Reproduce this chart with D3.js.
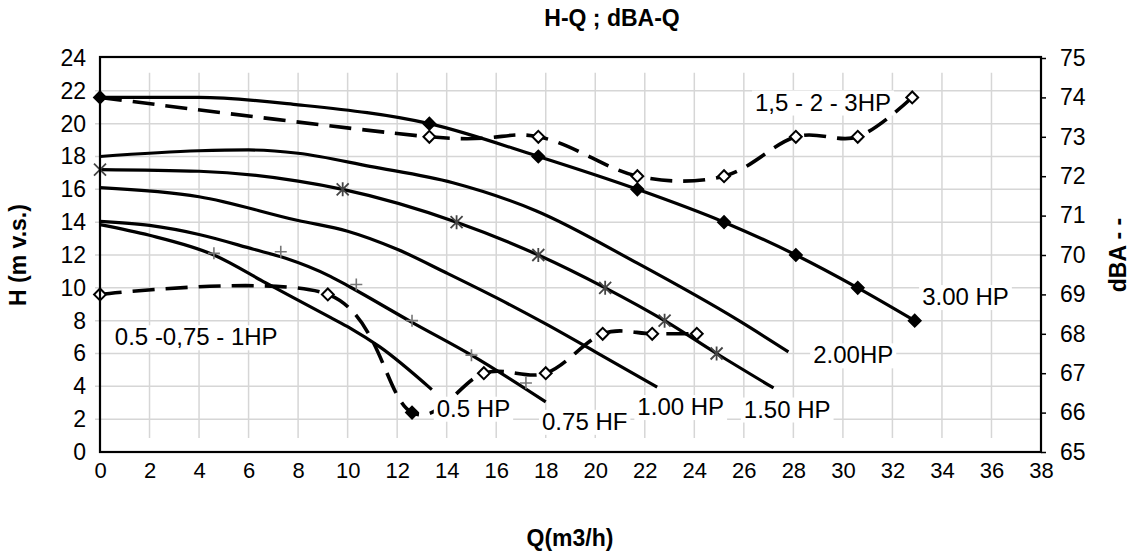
<!DOCTYPE html>
<html>
<head>
<meta charset="utf-8">
<script src="https://cdn.jsdelivr.net/npm/d3@7"></script>
<style>
body { margin: 0; background: #fff; }
text { font-family: Arial, "Liberation Sans", sans-serif; fill: #000; }
</style>
</head>
<body>
<svg width="1136" height="553"></svg>
<script>
// axis ticks
var qTicks = d3.range(0, 39, 2)
var hTicks = d3.range(0, 25, 2)
var dbaTicks = d3.range(65, 76, 1)

// H-Q curves (Q m3/h, H m)
var q3hp = [0, 4, 8, 13.3, 17.7, 21.7, 25.2, 28.1, 30.6, 32.9]
var h3hp = [21.6, 21.6, 21.15, 20.0, 18.0, 16.0, 14.0, 12.0, 10.0, 8.0]
var q2hp = [0, 4, 6, 8, 10.9, 14.25, 17.6, 21.7, 25.8, 27.8]
var h2hp = [18.0, 18.35, 18.4, 18.2, 17.4, 16.4, 14.7, 11.5, 8.0, 6.1]
var q15hp = [0, 4, 8, 9.8, 14.4, 17.7, 20.4, 22.8, 24.9, 27.2]
var h15hp = [17.2, 17.1, 16.5, 16.0, 14.0, 12.0, 10.0, 8.0, 6.0, 3.9]
var q1hp = [0, 4, 8, 10, 12, 14, 16, 18, 20, 22.5]
var h1hp = [16.1, 15.55, 14.1, 13.45, 12.35, 10.9, 9.4, 7.8, 6.1, 3.95]
var q075hp = [0, 2, 4, 6.2, 7.5, 9.3, 10.1, 12.6, 15, 18]
var h075hp = [14.05, 13.8, 13.25, 12.35, 11.8, 10.7, 10.05, 7.9, 5.9, 3.05]
var q05hp = [0, 2, 4.6, 6.7, 9.3, 10.1, 11.3, 13.4]
var h05hp = [13.85, 13.2, 12.0, 10.3, 8.2, 7.55, 6.4, 3.8]

// measured points (markers)
var q3hpPts = [0, 13.3, 17.7, 21.7, 25.2, 28.1, 30.6, 32.9]
var h3hpPts = [21.6, 20.0, 18.0, 16.0, 14.0, 12.0, 10.0, 8.0]
var q15hpPts = [0, 9.8, 14.4, 17.7, 20.4, 22.8, 24.9]
var h15hpPts = [17.2, 16.0, 14.0, 12.0, 10.0, 8.0, 6.0]
var qPlusPts = [4.6, 7.3, 10.35, 12.6, 15.0, 17.2]
var hPlusPts = [12.1, 12.2, 10.2, 8.0, 5.9, 4.2]

// dBA-Q curves
var qDbaSmall = [0, 9.2, 12.6, 15.5, 18.0, 20.3, 22.3, 24.1]
var dbaSmall = [69, 69, 66, 67, 67, 68, 68, 68]
var qDbaBig = [0, 13.3, 17.7, 21.7, 25.2, 28.1, 30.6, 32.8]
var dbaBig = [74, 73, 73, 72, 72, 73, 73, 74]

var svg = d3.select('svg')
var x = d3.scaleLinear().domain([0, 38]).range([100, 1041])
var y = d3.scaleLinear().domain([0, 24]).range([452, 58])
var y2 = d3.scaleLinear().domain([65, 75]).range([452, 58])

function zip(a, b) {
    return a.map(function(d, i) { return [d, b[i]] })
}

// grid
svg.append('g').selectAll('line')
    .data(hTicks.filter(function(d) { return d > 0 && d < 24 }))
    .enter().append('line')
    .attr('x1', x(0) - 5).attr('x2', x(38))
    .attr('y1', function(d) { return y(d) }).attr('y2', function(d) { return y(d) })
    .attr('stroke', '#d6d6d6').attr('stroke-width', 1.5)
svg.append('g').selectAll('line')
    .data(qTicks.filter(function(d) { return d > 0 && d < 38 }))
    .enter().append('line')
    .attr('x1', function(d) { return x(d) }).attr('x2', function(d) { return x(d) })
    .attr('y1', y(23.1)).attr('y2', y(0.85))
    .attr('stroke', '#d6d6d6').attr('stroke-width', 1.5)

var lineH = d3.line()
    .x(function(d) { return x(d[0]) })
    .y(function(d) { return y(d[1]) })
    .curve(d3.curveMonotoneX)
var lineDba = d3.line()
    .x(function(d) { return x(d[0]) })
    .y(function(d) { return y2(d[1]) })
    .curve(d3.curveCardinal)

var curves = [[q3hp, h3hp], [q2hp, h2hp], [q15hp, h15hp], [q1hp, h1hp], [q075hp, h075hp], [q05hp, h05hp]]
svg.append('g').selectAll('path')
    .data(curves)
    .enter().append('path')
    .attr('d', function(c) { return lineH(zip(c[0], c[1])) })
    .attr('fill', 'none').attr('stroke', '#000').attr('stroke-width', 3.2)

svg.append('g').selectAll('path')
    .data([[qDbaSmall, dbaSmall], [qDbaBig, dbaBig]])
    .enter().append('path')
    .attr('d', function(c) { return lineDba(zip(c[0], c[1])) })
    .attr('fill', 'none').attr('stroke', '#000').attr('stroke-width', 3.6)
    .attr('stroke-dasharray', '22,11')

// markers
var diamond = d3.symbol().type(d3.symbolSquare).size(70)
function diamonds(pts, fill) {
    svg.append('g').selectAll('path')
        .data(pts)
        .enter().append('path')
        .attr('d', diamond)
        .attr('transform', function(d) { return 'translate(' + d[0] + ',' + d[1] + ') rotate(45)' })
        .attr('fill', fill).attr('stroke', '#000').attr('stroke-width', 2)
}
diamonds(zip(qDbaSmall, dbaSmall).map(function(d) { return [x(d[0]), y2(d[1])] }).filter(function(d, i) { return i != 2 }), '#fff')
diamonds(zip(qDbaBig, dbaBig).map(function(d) { return [x(d[0]), y2(d[1])] }).slice(1), '#fff')
diamonds([[x(qDbaSmall[2]), y2(dbaSmall[2])]], '#000')
diamonds(zip(q3hpPts, h3hpPts).map(function(d) { return [x(d[0]), y(d[1])] }), '#000')

svg.append('g').selectAll('path')
    .data(zip(q15hpPts, h15hpPts))
    .enter().append('path')
    .attr('d', 'M-6,-6L6,6M-6,6L6,-6M0,-7L0,7')
    .attr('transform', function(d) { return 'translate(' + x(d[0]) + ',' + y(d[1]) + ')' })
    .attr('stroke', '#444').attr('stroke-width', 1.8).attr('fill', 'none')

svg.append('g').selectAll('path')
    .data(zip(qPlusPts, hPlusPts))
    .enter().append('path')
    .attr('d', 'M-6,0L6,0M0,-6L0,6')
    .attr('transform', function(d) { return 'translate(' + x(d[0]) + ',' + y(d[1]) + ')' })
    .attr('stroke', '#777').attr('stroke-width', 1.6).attr('fill', 'none')

// curve labels on white boxes
var labels = [
    {t: '1,5 - 2 - 3HP', q: 26.45, h: 20.8},
    {t: '3.00 HP', q: 33.2, h: 8.95},
    {t: '2.00HP', q: 28.8, h: 5.4},
    {t: '1.50 HP', q: 26.0, h: 2.1},
    {t: '1.00 HP', q: 21.7, h: 2.25},
    {t: '0.75 HF', q: 17.85, h: 1.35},
    {t: '0.5 HP', q: 13.6, h: 2.15},
    {t: '0.5 -0,75 - 1HP', q: 0.6, h: 6.5}
]
labels.forEach(function(l) {
    var g = svg.append('g')
    var txt = g.append('text')
        .attr('x', x(l.q)).attr('y', y(l.h))
        .attr('font-size', 24)
        .text(l.t)
    var b = txt.node().getBBox()
    g.insert('rect', 'text')
        .attr('x', b.x - 3).attr('y', b.y + 2)
        .attr('width', b.width + 6).attr('height', b.height - 2)
        .attr('fill', '#fff')
})

// axes
var left = svg.append('g')
    .attr('transform', 'translate(' + x(0) + ',0)')
    .call(d3.axisLeft(y).tickValues(hTicks).tickSize(0).tickPadding(14))
var right = svg.append('g')
    .attr('transform', 'translate(' + x(38) + ',0)')
    .call(d3.axisRight(y2).tickValues(dbaTicks).tickSize(5).tickPadding(14))
var bottom = svg.append('g')
    .attr('transform', 'translate(0,' + y(0) + ')')
    .call(d3.axisBottom(x).tickValues(qTicks).tickSize(0).tickPadding(10))
;[left, right].forEach(function(a) {
    a.attr('font-size', 23)
})
bottom.attr('font-size', 22)
;[left, right, bottom].forEach(function(a) {
    a.attr('font-family', 'Arial, "Liberation Sans", sans-serif')
    a.select('.domain').remove()
    a.selectAll('line').attr('stroke', '#000').attr('stroke-width', 1.5)
})

svg.append('rect')
    .attr('x', x(0)).attr('y', y(24) - 1)
    .attr('width', x(38) - x(0)).attr('height', y(0) - y(24) + 1)
    .attr('fill', 'none').attr('stroke', '#000').attr('stroke-width', 2.2)

// titles
svg.append('text')
    .attr('x', 612).attr('y', 26)
    .attr('text-anchor', 'middle').attr('font-weight', 'bold').attr('font-size', 23)
    .text('H-Q ; dBA-Q')
svg.append('text')
    .attr('x', 570).attr('y', 546)
    .attr('text-anchor', 'middle').attr('font-weight', 'bold').attr('font-size', 23)
    .text('Q(m3/h)')
svg.append('text')
    .attr('transform', 'translate(26,255) rotate(-90)')
    .attr('text-anchor', 'middle').attr('font-weight', 'bold').attr('font-size', 23)
    .text('H (m v.s.)')
svg.append('text')
    .attr('transform', 'translate(1126,255) rotate(-90)')
    .attr('text-anchor', 'middle').attr('font-weight', 'bold').attr('font-size', 23)
    .text('dBA - -')
</script>
</body>
</html>
